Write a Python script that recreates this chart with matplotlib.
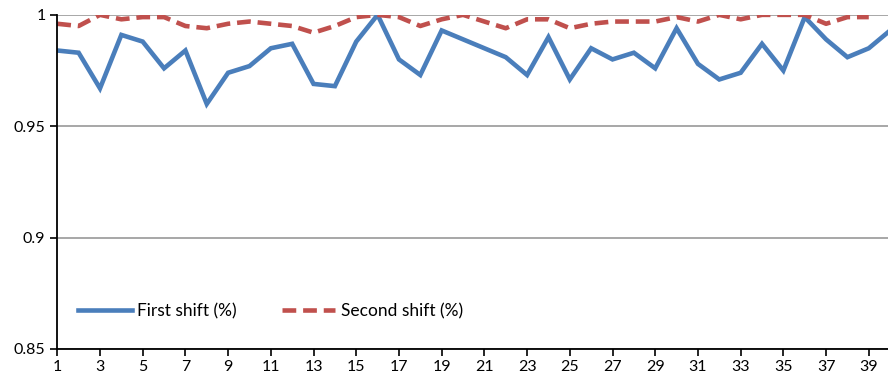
import matplotlib
matplotlib.use("Agg")
import matplotlib.pyplot as plt

days = list(range(1, 41))
first_shift = [0.984, 0.983, 0.967, 0.991, 0.988, 0.976, 0.984, 0.960, 0.974, 0.977,
               0.985, 0.987, 0.969, 0.968, 0.988, 1.000, 0.980, 0.973, 0.993, 0.989,
               0.985, 0.981, 0.973, 0.990, 0.971, 0.985, 0.980, 0.983, 0.976, 0.994,
               0.978, 0.971, 0.974, 0.987, 0.975, 0.999, 0.989, 0.981, 0.985, 0.993]
second_shift = [0.996, 0.995, 1.000, 0.998, 0.999, 0.999, 0.995, 0.994, 0.996, 0.997,
                0.996, 0.995, 0.992, 0.995, 0.999, 1.000, 0.999, 0.995, 0.998, 1.000,
                0.997, 0.994, 0.998, 0.998, 0.994, 0.996, 0.997, 0.997, 0.997, 0.999,
                0.997, 1.000, 0.998, 1.000, 1.000, 1.000, 0.996, 0.999, 0.999]
x_ticks = list(range(1, 40, 2))
y_ticks = [0.85, 0.9, 0.95, 1.0]
y_labels = ["0.85", "0.9", "0.95", "1"]

plt.rcParams['font.family'] = ['Lato', 'DejaVu Sans']

fig = plt.figure(figsize=(8.88, 3.81), dpi=100)
ax = fig.add_axes([0.0645, 0.084, 0.9355, 0.877])

ax.plot(days, first_shift, color='#4A7EBB', lw=3.3, label='First shift (%)',
        solid_joinstyle='miter')
ax.plot(days[:len(second_shift)], second_shift, color='#C0504D', lw=3.3,
        ls=(0, (3, 1.5)), label='Second shift (%)')

ax.set_xlim(1, 39.9)
ax.set_ylim(0.85, 1.0)
ax.set_xticks(x_ticks)
ax.set_yticks(y_ticks)
ax.set_yticklabels(y_labels)
ax.tick_params(axis='both', direction='out', length=5, width=1.2, labelsize=11.5)
ax.tick_params(axis='x', pad=3)

ax.grid(axis='y', color='#a0a0a0', lw=1.3)
ax.set_axisbelow(True)
for side in ['top', 'right']:
    ax.spines[side].set_visible(False)
for side in ['left', 'bottom']:
    ax.spines[side].set_color('black')
    ax.spines[side].set_linewidth(1.3)

ax.legend(loc='center left', bbox_to_anchor=(0.006, 0.114), ncol=2, frameon=False,
          fontsize=12.5, handlelength=3.1, handletextpad=0.3, columnspacing=2.6)

fig.savefig('out.png', dpi=100)
